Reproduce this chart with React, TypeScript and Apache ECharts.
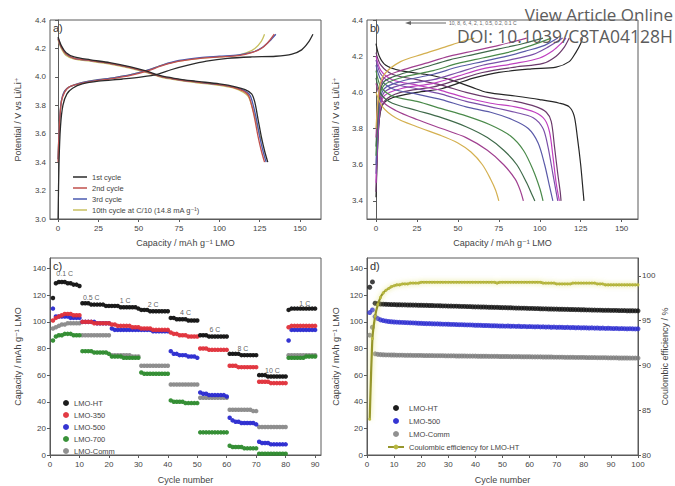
import React, { useEffect, useRef } from "react";
import * as echarts from "echarts";

const FONT = "'Liberation Sans', 'DejaVu Sans', Arial, sans-serif";
const AX = "#5a5a5a";
const TXT = "#444";

// ---------- Panel a ----------
const aCapTicks = [0, 25, 50, 75, 100, 125, 150];
const aVoltTicks = [3.0, 3.2, 3.4, 3.6, 3.8, 4.0, 4.2, 4.4];
const aNames = ["1st cycle", "2nd cycle", "3rd cycle", "10th cycle at C/10 (14.8 mA g\u207B\u00B9)"];
const aColors = ["#2b2b2b", "#c0504d", "#4a5ab0", "#c8c060"];
const cyc1Charge = [[0,3.0],[0.6,3.4],[1.5,3.65],[3,3.8],[5.5,3.88],[9,3.92],[15,3.95],[25,3.97],[40,3.985],[52,4.0],[62,4.02],[70,4.05],[80,4.08],[92,4.11],[105,4.13],[120,4.14],[135,4.145],[145,4.16],[151,4.19],[155,4.24],[158,4.3]];
const cyc2Charge = [[0,3.4],[0.8,3.65],[2,3.82],[4,3.89],[7,3.93],[13,3.95],[22,3.97],[35,3.99],[45,4.01],[55,4.04],[65,4.08],[75,4.11],[88,4.13],[100,4.14],[112,4.15],[120,4.17],[126,4.2],[130,4.24],[134,4.3]];
const cyc3Charge = [[0,3.42],[0.8,3.66],[2,3.83],[4,3.9],[7,3.93],[13,3.955],[22,3.975],[35,3.995],[45,4.015],[55,4.045],[65,4.085],[75,4.115],[88,4.135],[100,4.145],[112,4.155],[121,4.175],[127,4.21],[131,4.25],[135,4.3]];
const cyc10Charge = [[0,3.42],[0.8,3.66],[2,3.83],[4,3.9],[7,3.93],[13,3.955],[22,3.975],[35,3.995],[45,4.015],[55,4.045],[65,4.085],[75,4.11],[88,4.13],[100,4.14],[110,4.15],[117,4.17],[122,4.2],[126,4.25],[128,4.3]];
const cyc1Dis = [[0,4.28],[2,4.22],[5,4.17],[10,4.14],[20,4.12],[32,4.1],[45,4.07],[55,4.04],[63,4.01],[72,3.99],[85,3.97],[100,3.95],[110,3.93],[116,3.91],[120,3.88],[122,3.82],[124,3.7],[126,3.58],[128,3.48],[130,3.4]];
const cyc2Dis = [[0,4.27],[2,4.21],[5,4.16],[10,4.13],[20,4.115],[32,4.095],[45,4.065],[55,4.035],[63,4.005],[72,3.985],[85,3.965],[100,3.945],[109,3.925],[115,3.9],[118,3.87],[120,3.8],[122,3.7],[124,3.58],[126,3.48],[128,3.4]];
const cyc3Dis = [[0,4.27],[2,4.21],[5,4.16],[10,4.13],[20,4.115],[32,4.095],[45,4.065],[55,4.035],[63,4.005],[72,3.985],[85,3.965],[100,3.945],[110,3.925],[116,3.9],[119,3.87],[121,3.8],[123,3.7],[125,3.58],[127,3.48],[129,3.4]];
const cyc10Dis = [[0,4.26],[2,4.2],[5,4.15],[10,4.125],[20,4.11],[32,4.09],[45,4.06],[55,4.03],[63,4.0],[72,3.98],[85,3.96],[100,3.94],[109,3.92],[115,3.89],[118,3.86],[120,3.8],[122,3.72],[124,3.63],[126,3.55]];
const aCharge = [cyc1Charge, cyc2Charge, cyc3Charge, cyc10Charge];
const aDis = [cyc1Dis, cyc2Dis, cyc3Dis, cyc10Dis];

// ---------- Panel b ----------
const bCapTicks = [0, 25, 50, 75, 100, 125, 150];
const bVoltTicks = [3.4, 3.6, 3.8, 4.0, 4.2, 4.4];
const bRates = ["0.1 C", "0.2 C", "0.5 C", "1 C", "2 C", "4 C", "6 C", "8 C", "10 C"];
const bColors = ["#262626", "#6b3a6b", "#c040c0", "#7a50a8", "#5a5aa8", "#4a8a4a", "#3f6a4a", "#a04090", "#d4b050"];
const bDis = [
  [[0,4.27],[2,4.2],[6,4.15],[15,4.12],[30,4.1],[45,4.07],[58,4.03],[68,4.0],[85,3.98],[100,3.96],[112,3.94],[118,3.92],[121,3.87],[123,3.75],[125,3.6],[126.5,3.45],[127,3.4]],
  [[0,4.22],[3,4.15],[10,4.1],[25,4.07],[40,4.04],[55,4.0],[70,3.97],[85,3.95],[98,3.92],[104,3.89],[107,3.84],[109,3.7],[111,3.55],[112.5,3.45],[113,3.4]],
  [[0,4.2],[3,4.12],[10,4.07],[25,4.04],[40,4.01],[55,3.97],[70,3.94],[85,3.92],[97,3.89],[103,3.85],[106,3.78],[108,3.65],[110,3.5],[112,3.4]],
  [[0,4.18],[3,4.1],[10,4.05],[25,4.02],[40,3.99],[55,3.95],[70,3.92],[85,3.89],[96,3.86],[102,3.8],[105,3.7],[108,3.55],[110,3.45],[111,3.4]],
  [[0,4.15],[3,4.07],[10,4.02],[25,3.99],[40,3.96],[55,3.92],[70,3.89],[83,3.85],[93,3.8],[99,3.72],[103,3.6],[106,3.48],[108,3.4]],
  [[0,4.12],[3,4.03],[10,3.98],[25,3.95],[40,3.91],[55,3.87],[70,3.82],[82,3.76],[90,3.68],[96,3.57],[100,3.47],[102,3.4]],
  [[0,4.08],[3,3.99],[10,3.94],[25,3.9],[40,3.86],[55,3.81],[68,3.75],[78,3.68],[86,3.6],[92,3.5],[95,3.44],[97,3.4]],
  [[0,4.05],[4,3.95],[12,3.9],[25,3.85],[40,3.8],[55,3.75],[68,3.68],[78,3.6],[85,3.52],[88,3.46],[90,3.4]],
  [[0,4.0],[4,3.92],[12,3.86],[25,3.81],[40,3.76],[50,3.72],[58,3.67],[65,3.6],[70,3.52],[73,3.46],[75,3.4]],
];
const bCharge = [
  [[0,3.42],[1,3.7],[2,3.85],[4,3.93],[10,3.97],[25,4.0],[40,4.02],[50,4.05],[60,4.08],[75,4.11],[95,4.13],[110,4.14],[118,4.17],[122,4.22],[125,4.27],[126,4.3]],
  [[0,3.45],[2,3.85],[5,3.95],[15,4.0],[35,4.03],[50,4.07],[65,4.11],[85,4.14],[102,4.16],[110,4.2],[115,4.25],[118,4.3]],
  [[0,3.5],[2,3.88],[5,3.98],[15,4.02],[35,4.05],[50,4.09],[65,4.13],[85,4.16],[100,4.19],[108,4.23],[113,4.27],[116,4.3]],
  [[0,3.55],[2,3.9],[5,4.0],[15,4.04],[35,4.07],[50,4.11],[65,4.15],[82,4.18],[96,4.21],[105,4.25],[114,4.3]],
  [[0,3.6],[2,3.93],[5,4.02],[15,4.06],[35,4.1],[50,4.14],[65,4.17],[80,4.2],[92,4.23],[103,4.26],[111,4.3]],
  [[0,3.65],[2,3.96],[5,4.04],[15,4.08],[35,4.12],[50,4.16],[65,4.19],[80,4.22],[95,4.26],[107,4.3]],
  [[0,3.7],[2,3.98],[5,4.06],[15,4.1],[30,4.14],[45,4.18],[60,4.21],[75,4.24],[90,4.27],[102,4.3]],
  [[0,3.75],[2,4.0],[5,4.08],[15,4.12],[30,4.16],[45,4.2],[60,4.23],[75,4.26],[92,4.3]],
  [[0,3.8],[2,4.02],[5,4.1],[15,4.17],[28,4.21],[42,4.25],[52,4.28],[60,4.3]],
];

// ---------- Panel c ----------
const cCycleTicks = [0, 10, 20, 30, 40, 50, 60, 70, 80, 90];
const capTicks = [0, 20, 40, 60, 80, 100, 120, 140];
const cNames = ["LMO-HT", "LMO-350", "LMO-500", "LMO-700", "LMO-Comm"];
const cColors = ["#111111", "#e0303a", "#2a2ad0", "#2e8b2e", "#8a8a8a"];
const cHT = [118,129,130,130,130,129,129,128,128,127, 114,114,114,113,113,113,113,113,112,112, 112,112,112,111,111,111,111,111,111,110, 109,109,109,108,108,108,108,108,108,108, 103,103,102,102,102,102,101,101,101,101, 90,90,90,89,89,89,89,89,89,89, 76,76,76,76,75,75,75,75,75,75, 60,60,60,59,59,59,59,59,59,59, 109,110,110,110,110,110,110,110,110,110];
const c350 = [101,103,104,105,106,106,106,105,105,105, 100,100,100,100,99,99,99,99,99,99, 98,98,97,97,97,97,97,96,96,96, 95,95,95,95,94,94,94,94,94,94, 92,91,91,90,90,90,89,89,89,89, 80,80,80,79,79,79,79,79,79,79, 67,67,67,66,66,66,66,66,66,66, 55,55,55,55,54,54,54,54,54,54, 96,97,97,97,97,97,97,97,97,97];
const c500 = [110,104,104,104,104,104,103,103,103,103, 100,100,100,100,100,99,99,99,99,99, 95,94,94,94,94,94,94,94,94,94, 94,94,94,94,93,93,93,93,93,93, 78,76,76,75,75,75,74,74,74,73, 47,46,46,45,45,45,45,45,45,44, 28,26,25,25,24,24,24,24,24,23, 10,9,9,9,8,8,8,8,8,8, 86,94,94,94,94,94,94,94,94,94];
const c700 = [86,89,90,90,91,91,91,90,90,90, 78,78,78,78,77,77,77,77,77,76, 74,74,74,74,73,73,73,73,73,73, 62,61,61,61,61,61,61,61,61,61, 41,40,40,40,40,39,39,39,39,39, 17,17,17,17,17,17,17,17,17,17, 7,6,6,6,6,5,5,5,5,5, 1,1,1,1,1,1,1,1,1,1, 73,73,73,73,73,73,74,74,74,74];
const cComm = [95,96,97,98,98,99,99,99,99,99, 90,90,90,90,90,90,90,90,90,90, 75,75,75,75,75,75,75,74,74,74, 67,67,67,67,67,67,67,67,67,67, 53,53,53,53,53,53,53,53,53,53, 43,43,43,43,43,43,43,43,43,43, 34,34,34,34,34,34,34,34,33,33, 21,21,21,21,21,21,21,21,21,21, 75,75,75,75,75,75,75,75,75,75];
const cSeries = [cHT, c350, c500, c700, cComm];
const rateLabels = ["0.1 C", "0.5 C", "1 C", "2 C", "4 C", "6 C", "8 C", "10 C", "1 C"];
const rateLabelX = [5, 14, 25.5, 35, 46, 56, 65.5, 75.5, 86.5];
const rateLabelY = [136, 118, 116, 113, 107, 94, 80, 63.5, 114];

// ---------- Panel d ----------
const dCycleTicks = [0, 10, 20, 30, 40, 50, 60, 70, 80, 90, 100];
const ceTicks = [80, 85, 90, 95, 100];
const dNames = ["LMO-HT", "LMO-500", "LMO-Comm"];
const dColors = ["#111111", "#2a2ad0", "#7a7a7a"];
const ceName = "Coulombic efficiency for LMO-HT";
const dHT = [126,130,114,113.6,113.4,113.3,113.2,113.1,113.0,113.0, 112.9,112.9,112.8,112.8,112.7,112.7,112.6,112.6,112.5,112.5, 112.4,112.4,112.3,112.3,112.2,112.2,112.1,112.0,112.0,111.9, 111.9,111.8,111.8,111.7,111.6,111.6,111.5,111.5,111.4,111.3, 111.3,111.2,111.2,111.1,111.0,111.0,110.9,110.9,110.8,110.7, 110.7,110.6,110.6,110.5,110.4,110.4,110.3,110.3,110.2,110.1, 110.1,110.0,110.0,109.9,109.8,109.8,109.7,109.7,109.6,109.6, 109.5,109.5,109.4,109.4,109.3,109.3,109.2,109.2,109.1,109.1, 109.0,109.0,108.9,108.9,108.8,108.8,108.7,108.7,108.7,108.6, 108.6,108.6,108.5,108.5,108.5,108.4,108.4,108.4,108.3,108.3];
const d500 = [107,109,104,102.5,101.5,101,100.6,100.3,100.1,99.9, 99.8,99.7,99.6,99.5,99.4,99.3,99.2,99.1,99.0,98.9, 98.8,98.7,98.7,98.6,98.5,98.5,98.4,98.3,98.3,98.2, 98.1,98.1,98.0,97.9,97.9,97.8,97.7,97.7,97.6,97.5, 97.5,97.4,97.3,97.3,97.2,97.1,97.1,97.0,96.9,96.9, 96.8,96.9,96.7,96.8,96.6,96.7,96.5,96.6,96.4,96.5, 96.4,96.3,96.4,96.2,96.3,96.1,96.2,96.0,96.1,95.9, 96.0,95.9,95.8,95.9,95.7,95.8,95.6,95.7,95.5,95.6, 95.5,95.4,95.5,95.3,95.4,95.2,95.3,95.1,95.2,95.1, 95.0,95.1,94.9,95.0,94.9,94.8,94.9,94.8,94.7,94.8];
const dComm = [90,96,76,75.6,75.4,75.3,75.2,75.2,75.1,75.1, 75.0,75.0,75.0,74.9,74.9,74.9,74.8,74.8,74.8,74.8, 74.7,74.7,74.7,74.7,74.6,74.6,74.6,74.6,74.5,74.5, 74.5,74.5,74.4,74.4,74.4,74.4,74.3,74.3,74.3,74.3, 74.2,74.2,74.2,74.2,74.1,74.1,74.1,74.1,74.0,74.0, 74.0,74.0,73.9,73.9,73.9,73.9,73.8,73.8,73.8,73.8, 73.7,73.7,73.7,73.7,73.6,73.6,73.6,73.6,73.5,73.5, 73.5,73.5,73.4,73.4,73.4,73.4,73.3,73.3,73.3,73.3, 73.2,73.2,73.2,73.2,73.1,73.1,73.1,73.1,73.0,73.0, 73.0,73.0,72.9,72.9,72.9,72.9,72.8,72.8,72.8,72.8];
const dCE = [84.0,93.0,95.5,96.8,97.6,98.1,98.4,98.6,98.8,98.9, 99.0,99.0,99.1,99.1,99.1,99.2,99.2,99.2,99.2,99.3, 99.3,99.3,99.3,99.3,99.3,99.3,99.3,99.3,99.3,99.3, 99.3,99.3,99.3,99.3,99.3,99.3,99.3,99.3,99.3,99.3, 99.3,99.3,99.3,99.3,99.3,99.3,99.3,99.2,99.3,99.3, 99.3,99.3,99.3,99.3,99.3,99.3,99.3,99.3,99.3,99.3, 99.3,99.3,99.3,99.3,99.2,99.2,99.2,99.2,99.2,99.1, 99.1,99.1,99.1,99.1,99.1,99.2,99.2,99.2,99.2,99.2, 99.2,99.2,99.2,99.2,99.1,99.1,99.1,99.0,99.0,99.0, 99.0,99.0,99.0,99.0,99.0,99.0,99.0,99.0,99.0,99.0];
const dSeries = [dHT, d500, dComm];

const CAP_TITLE = "Capacity / mAh g\u207B\u00B9 LMO";
const POT_TITLE = "Potential / V vs Li/Li\u207A";

function xAx(gridIndex: number, min: number, max: number, ticks: number[], name: string, nameGap: number) {
  return {
    type: "value", gridIndex, min, max,
    name, nameLocation: "middle", nameGap,
    nameTextStyle: { fontFamily: FONT, fontSize: 9, color: TXT },
    axisLine: { show: true, lineStyle: { color: AX, width: 1 } },
    axisTick: { show: true, customValues: ticks, length: 3, lineStyle: { color: AX } },
    axisLabel: { show: true, customValues: ticks, fontFamily: FONT, fontSize: 8, color: TXT, margin: 5 },
    splitLine: { show: false },
  };
}
function yAx(gridIndex: number, min: number, max: number, ticks: number[], name: string, nameGap: number, pos: string, digits: number) {
  return {
    type: "value", gridIndex, min, max, position: pos,
    name, nameLocation: "middle", nameGap, nameRotate: 90,
    nameTextStyle: { fontFamily: FONT, fontSize: 9, color: TXT },
    axisLine: { show: true, lineStyle: { color: AX, width: 1 } },
    axisTick: { show: true, customValues: ticks, length: 3, lineStyle: { color: AX } },
    axisLabel: { show: true, customValues: ticks, fontFamily: FONT, fontSize: 8, color: TXT, margin: 4,
      formatter: (v: number) => v.toFixed(digits) },
    splitLine: { show: false },
  };
}

export default function App() {
  const ref = useRef<HTMLDivElement>(null);
  useEffect(() => {
    if (!ref.current) return;
    const chart = echarts.init(ref.current, undefined, { renderer: "svg" });
    const series: any[] = [];
    aNames.forEach((n, i) => {
      [aCharge[i], aDis[i]].forEach((d) => {
        series.push({ type: "line", name: n, xAxisIndex: 0, yAxisIndex: 0, data: d, showSymbol: false, symbol: "none",
          smooth: 0.3, lineStyle: { color: aColors[i], width: 1.3 }, itemStyle: { color: aColors[i] }, z: 10 - i });
      });
    });
    bRates.forEach((n, i) => {
      [bCharge[i], bDis[i]].forEach((d) => {
        series.push({ type: "line", name: n, xAxisIndex: 1, yAxisIndex: 1, data: d, showSymbol: false, symbol: "none",
          smooth: 0.3, lineStyle: { color: bColors[i], width: 1.2 }, itemStyle: { color: bColors[i] } });
      });
    });
    cNames.forEach((n, i) => {
      series.push({ type: "scatter", name: n, xAxisIndex: 2, yAxisIndex: 2, symbolSize: 4.5,
        data: cSeries[i].map((v, k) => [k + 1, v]), itemStyle: { color: cColors[i], opacity: 0.95 }, z: 10 - i });
    });
    series.push({ type: "scatter", name: "rates", xAxisIndex: 2, yAxisIndex: 2, symbolSize: 0, silent: true,
      data: rateLabels.map((t, k) => [rateLabelX[k], rateLabelY[k], t]),
      label: { show: true, position: "inside", formatter: (p: any) => p.value[2], fontFamily: FONT, fontSize: 7, color: "#333" } });
    dNames.forEach((n, i) => {
      series.push({ type: "scatter", name: n, xAxisIndex: 3, yAxisIndex: 3, symbolSize: 5,
        data: dSeries[i].map((v, k) => [k + 1, v]), itemStyle: { color: dColors[i] }, z: 10 - i });
    });
    series.push({ type: "line", name: ceName, xAxisIndex: 3, yAxisIndex: 4, data: dCE.map((v, k) => [k + 1, v]),
      symbol: "circle", symbolSize: 3, showSymbol: true, smooth: 0.2,
      lineStyle: { color: "#96962c", width: 2.2, shadowColor: "rgba(225,225,110,0.9)", shadowBlur: 5 },
      itemStyle: { color: "#b8b840" }, z: 12 });

    const legendText = { fontFamily: FONT, fontSize: 7.5, color: TXT };
    chart.setOption({
      animation: false,
      backgroundColor: "#ffffff",
      grid: [
        { left: 50, top: 20, width: 271, height: 199, show: true, borderColor: AX, borderWidth: 1 },
        { left: 367, top: 20, width: 271, height: 199, show: true, borderColor: AX, borderWidth: 1 },
        { left: 50, top: 258, width: 271, height: 197, show: true, borderColor: AX, borderWidth: 1 },
        { left: 367, top: 258, width: 271, height: 197, show: true, borderColor: AX, borderWidth: 1 },
      ],
      xAxis: [
        xAx(0, -5, 163, aCapTicks, CAP_TITLE, 19),
        xAx(1, -5.5, 160, bCapTicks, CAP_TITLE, 19),
        xAx(2, 0, 92, cCycleTicks, "Cycle number", 20),
        xAx(3, 0, 100, dCycleTicks, "Cycle number", 20),
      ],
      yAxis: [
        yAx(0, 3.0, 4.4, aVoltTicks, POT_TITLE, 28, "left", 1),
        yAx(1, 3.3, 4.4, bVoltTicks, POT_TITLE, 27, "left", 1),
        yAx(2, 0, 148, capTicks, CAP_TITLE, 28, "left", 0),
        yAx(3, 0, 148, capTicks, CAP_TITLE, 27, "left", 0),
        yAx(3, 80, 102, ceTicks, "Coulombic efficiency / %", 22, "right", 0),
      ],
      legend: [
        { data: aNames, orient: "vertical", left: 68, top: 168, itemWidth: 14, itemHeight: 1.5, itemGap: 3,
          icon: "rect", textStyle: legendText, selectedMode: false },
        { data: cNames, orient: "vertical", left: 58, top: 394, itemWidth: 6, itemHeight: 6, itemGap: 4,
          icon: "circle", textStyle: legendText, selectedMode: false },
        { data: [...dNames, ceName], orient: "vertical", left: 382, top: 399, itemWidth: 16, itemHeight: 6, itemGap: 5,
          textStyle: legendText, selectedMode: false },
      ],
      graphic: [
        { type: "text", left: 53, top: 22, style: { text: "a)", fontFamily: FONT, fontSize: 11, fill: "#333" } },
        { type: "text", left: 370, top: 22, style: { text: "b)", fontFamily: FONT, fontSize: 11, fill: "#333" } },
        { type: "text", left: 53, top: 260, style: { text: "c)", fontFamily: FONT, fontSize: 11, fill: "#333" } },
        { type: "text", left: 370, top: 260, style: { text: "d)", fontFamily: FONT, fontSize: 11, fill: "#333" } },
        { type: "line", shape: { x1: 409, y1: 23, x2: 446, y2: 23 }, style: { stroke: "#666", lineWidth: 1 } },
        { type: "polygon", shape: { points: [[405, 23], [411, 21], [411, 25]] }, style: { fill: "#666" } },
        { type: "text", left: 449, top: 20, style: { text: "10, 8, 6, 4, 2, 1, 0.5, 0.2, 0.1 C", fontFamily: FONT, fontSize: 5, fill: "#666" } },
        { type: "text", right: 2, top: 6, z: 100, style: { text: "View Article Online", fontFamily: "'Open Sans', sans-serif", fontSize: 17, fill: "#5c5c5c" } },
        { type: "text", right: 2, top: 27, z: 100, style: { text: "DOI: 10.1039/C8TA04128H", fontFamily: "'Open Sans', sans-serif", fontSize: 17.5, fill: "#5c5c5c" } },
      ],
      series,
    });
    return () => chart.dispose();
  }, []);
  return <div ref={ref} style={{ position: "fixed", left: 0, top: 0, width: 675, height: 486, background: "#fff" }} />;
}
